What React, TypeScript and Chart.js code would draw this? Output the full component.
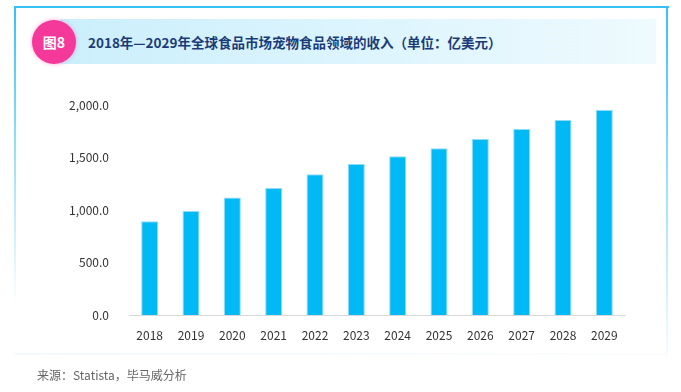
import React, { useEffect, useRef } from "react";
import { Chart, registerables } from "chart.js";

Chart.register(...registerables);

const years = ["2018", "2019", "2020", "2021", "2022", "2023", "2024", "2025", "2026", "2027", "2028", "2029"];
const revenue = [892, 990, 1120, 1210, 1340, 1438, 1511, 1587, 1676, 1771, 1857, 1952];
const yTicks = [0, 500, 1000, 1500, 2000];
const titleText = "2018年—2029年全球食品市场宠物食品领域的收入（单位：亿美元）";
const badgeText = "图8";
const sourceText = "来源：Statista，毕马威分析";

const FONT = "'Noto Sans CJK SC', 'Noto Sans', sans-serif";

export default function App() {
  const ref = useRef<HTMLCanvasElement | null>(null);

  useEffect(() => {
    if (!ref.current) return;
    const chart = new Chart(ref.current, {
      type: "bar",
      data: {
        labels: years,
        datasets: [
          {
            data: revenue,
            backgroundColor: "#00b9f5",
            borderColor: "#8fdcf8",
            borderWidth: { top: 1, left: 1, right: 1, bottom: 0 },
            barPercentage: 0.41,
            categoryPercentage: 1,
          },
        ],
      },
      options: {
        responsive: false,
        animation: false,
        layout: { padding: { left: 0, right: 56, top: 105, bottom: 0 } },
        plugins: { legend: { display: false }, tooltip: { enabled: false } },
        scales: {
          x: {
            grid: { display: false },
            border: { display: true, color: "#d9d9d9", width: 1 },
            ticks: { color: "#333333", font: { family: FONT, size: 12 }, padding: 5, maxRotation: 0 },
            afterFit: (s: any) => {
              s.height = 392 - 315;
            },
          },
          y: {
            min: 0,
            max: 2000,
            afterBuildTicks: (s: any) => {
              s.ticks = yTicks.map((v) => ({ value: v }));
            },
            grid: { display: false },
            border: { display: false },
            ticks: {
              color: "#333333",
              font: { family: FONT, size: 12 },
              padding: 12,
              callback: (v: any) =>
                Number(v).toLocaleString("en-US", { minimumFractionDigits: 1, maximumFractionDigits: 1 }),
            },
            afterFit: (s: any) => {
              s.width = 129;
            },
          },
        },
      },
    });
    return () => chart.destroy();
  }, []);

  return (
    <div style={{ position: "absolute", left: 0, top: 0, width: 681, height: 392, background: "#fff", overflow: "hidden", fontFamily: FONT }}>
      {/* frame */}
      <div style={{ position: "absolute", left: 14, top: 6, width: 655, height: 2, background: "#34c2f4" }} />
      <div style={{ position: "absolute", left: 14, top: 6, width: 2, height: 300, background: "linear-gradient(#34c2f4, rgba(52,194,244,0.6) 40%, rgba(52,194,244,0) 100%)" }} />
      <div style={{ position: "absolute", left: 666, top: 6, width: 2, height: 348, background: "linear-gradient(#34c2f4, rgba(52,194,244,0.5) 50%, rgba(52,194,244,0.05) 100%)" }} />
      <div style={{ position: "absolute", left: 14, top: 353, width: 654, height: 2, background: "linear-gradient(90deg, rgba(225,238,246,0.35), rgba(225,238,246,0.15))" }} />
      {/* banner */}
      <div style={{ position: "absolute", left: 60, top: 19, width: 596, height: 45, background: "linear-gradient(90deg, #cbeffc, #eefafe)" }} />
      <div style={{ position: "absolute", left: 32, top: 20, width: 44, height: 44, borderRadius: "50%", background: "#f5399a", boxShadow: "0 0 4px rgba(245,57,154,0.4)", color: "#fff", fontSize: 14, fontWeight: 700, display: "flex", alignItems: "center", justifyContent: "center" }}>
        {badgeText}
      </div>
      <div style={{ position: "absolute", left: 88, top: 31, height: 22, lineHeight: "22px", fontSize: 13.5, fontWeight: 700, color: "#1b3b78", whiteSpace: "nowrap" }}>
        {titleText}
      </div>
      <canvas ref={ref} width={681} height={392} style={{ position: "absolute", left: 0, top: 0, width: 681, height: 392 }} />
      <div style={{ position: "absolute", left: 37, top: 366, fontSize: 12, color: "#666", whiteSpace: "nowrap", lineHeight: "18px" }}>
        {sourceText}
      </div>
    </div>
  );
}
